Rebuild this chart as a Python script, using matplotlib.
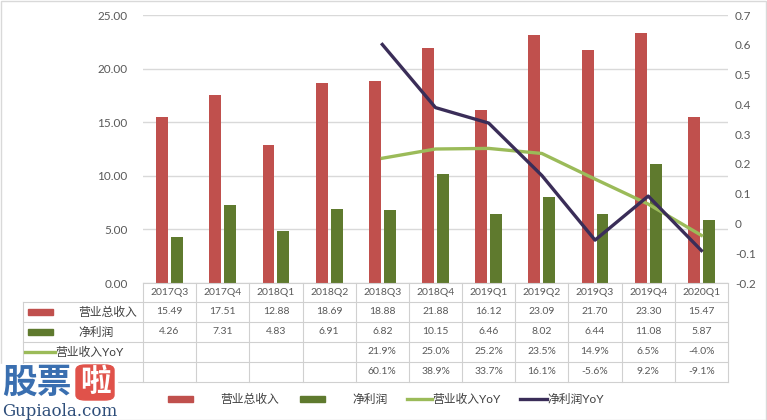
import matplotlib.pyplot as plt
import matplotlib.transforms as mtransforms
from matplotlib.patches import Rectangle, FancyBboxPatch
from matplotlib.lines import Line2D
import numpy as np

# 数据
quarters = ["2017Q3", "2017Q4", "2018Q1", "2018Q2", "2018Q3", "2018Q4",
            "2019Q1", "2019Q2", "2019Q3", "2019Q4", "2020Q1"]
revenue = [15.49, 17.51, 12.88, 18.69, 18.88, 21.88, 16.12, 23.09, 21.70, 23.30, 15.47]
profit = [4.26, 7.31, 4.83, 6.91, 6.82, 10.15, 6.46, 8.02, 6.44, 11.08, 5.87]
rev_yoy = [None, None, None, None, 21.9, 25.0, 25.2, 23.5, 14.9, 6.5, -4.0]
profit_yoy = [None, None, None, None, 60.1, 38.9, 33.7, 16.1, -5.6, 9.2, -9.1]

series_names = ["营业总收入", "净利润", "营业收入YoY", "净利润YoY"]
C_REV = "#C0504D"
C_PRO = "#5F7A2E"
C_RYOY = "#9BBB59"
C_PYOY = "#3A2D58"
GRID = "#D9D9D9"
TXT = "#595959"

plt.rcParams['font.family'] = ['Lato', 'Noto Sans CJK SC', 'DejaVu Sans']

W, H = 767, 420
fig = plt.figure(figsize=(W / 100, H / 100), dpi=100)

def fx(px):
    return px / W

def fy(py):
    return 1 - py / H

ax = fig.add_axes([fx(143), fy(283), fx(728) - fx(143), fy(15) - fy(283)])
ax2 = ax.twinx()

x = np.arange(len(quarters))
bw = 0.225
ax.bar(x - 0.14, revenue, bw, color=C_REV, zorder=3)
ax.bar(x + 0.14, profit, bw, color=C_PRO, zorder=3)
ax.set_xlim(-0.5, len(quarters) - 0.5)
ax.set_ylim(0, 25)
ax.set_yticks(np.arange(0, 26, 5))
ax.set_yticklabels([f"{v:.2f}" for v in np.arange(0, 26, 5)])
ax.yaxis.grid(True, color=GRID, linewidth=1, zorder=0)
ax.set_xticks([])
ax.tick_params(axis='y', length=0, pad=11, labelsize=8.5, labelcolor=TXT)
for s in ax.spines.values():
    s.set_visible(False)

# 同比折线（次坐标轴）
idx = [i for i, v in enumerate(rev_yoy) if v is not None]
ax2.plot(idx, [rev_yoy[i] / 100 for i in idx], color=C_RYOY, lw=2.4, zorder=4)
ax2.plot(idx, [profit_yoy[i] / 100 for i in idx], color=C_PYOY, lw=2.4, zorder=5)
ax2.set_ylim(-0.2, 0.7)
rt = np.round(np.arange(-0.2, 0.71, 0.1), 1)
ax2.set_yticks(rt)
ax2.set_yticklabels(["0" if v == 0 else f"{v:g}" for v in rt])
ax2.tick_params(axis='y', length=0, pad=5, labelsize=8.5, labelcolor=TXT)
for s in ax2.spines.values():
    s.set_visible(False)

# 数据表
tr = mtransforms.blended_transform_factory(ax.transData, fig.transFigure)
rows_y = [283, 302, 322, 342, 362, 382]
tc = "#D0D0D0"
fig.add_artist(Line2D([fx(143), fx(728)], [fy(283)] * 2, color=tc, lw=0.8))
for py in rows_y[1:]:
    fig.add_artist(Line2D([fx(23), fx(728)], [fy(py)] * 2, color=tc, lw=0.8))
fig.add_artist(Line2D([fx(23)] * 2, [fy(302), fy(382)], color=tc, lw=0.8))
for i in range(len(quarters) + 1):
    fig.add_artist(Line2D([i - 0.5] * 2, [fy(283), fy(382)], transform=tr, color=tc, lw=0.8))

def cell_y(r):
    return fy((rows_y[r] + rows_y[r + 1]) / 2)

fs_tab = 7.5
for i, q in enumerate(quarters):
    fig.text(i, cell_y(0), q, transform=tr, ha='center', va='center', fontsize=fs_tab, color=TXT)
    fig.text(i, cell_y(1), f"{revenue[i]:.2f}", transform=tr, ha='center', va='center', fontsize=fs_tab, color=TXT)
    fig.text(i, cell_y(2), f"{profit[i]:.2f}", transform=tr, ha='center', va='center', fontsize=fs_tab, color=TXT)
    if rev_yoy[i] is not None:
        fig.text(i, cell_y(3), f"{rev_yoy[i]:.1f}%", transform=tr, ha='center', va='center', fontsize=fs_tab, color=TXT)
    if profit_yoy[i] is not None:
        fig.text(i, cell_y(4), f"{profit_yoy[i]:.1f}%", transform=tr, ha='center', va='center', fontsize=fs_tab, color=TXT)

# 表格行标题
fig.add_artist(Rectangle((fx(28), cell_y(1) - 3 / H), fx(25), 6 / H, color=C_REV))
fig.text(fx(78), cell_y(1), series_names[0], ha='left', va='center', fontsize=8.5, color="#404040")
fig.add_artist(Rectangle((fx(28), cell_y(2) - 3 / H), fx(25), 6 / H, color=C_PRO))
fig.text(fx(78), cell_y(2), series_names[1], ha='left', va='center', fontsize=8.5, color="#404040")
fig.add_artist(Line2D([fx(25), fx(55)], [cell_y(3)] * 2, color=C_RYOY, lw=2.4))
fig.text(fx(55), cell_y(3), series_names[2], ha='left', va='center', fontsize=8.5, color="#404040")
fig.add_artist(Line2D([fx(25), fx(55)], [cell_y(4)] * 2, color=C_PYOY, lw=2.4))
fig.text(fx(55), cell_y(4), series_names[3], ha='left', va='center', fontsize=8.5, color="#404040")

# 图例
ly = fy(399)
fig.add_artist(Rectangle((fx(168), ly - 3 / H), fx(25), 6 / H, color=C_REV))
fig.text(fx(220), ly, series_names[0], ha='left', va='center', fontsize=8.5, color="#404040")
fig.add_artist(Rectangle((fx(300), ly - 3 / H), fx(25), 6 / H, color=C_PRO))
fig.text(fx(352), ly, series_names[1], ha='left', va='center', fontsize=8.5, color="#404040")
fig.add_artist(Line2D([fx(407), fx(432)], [ly] * 2, color=C_RYOY, lw=2.4))
fig.text(fx(432), ly, series_names[2], ha='left', va='center', fontsize=8.5, color="#404040")
fig.add_artist(Line2D([fx(520), fx(547)], [ly] * 2, color=C_PYOY, lw=2.4))
fig.text(fx(547), ly, series_names[3], ha='left', va='center', fontsize=8.5, color="#404040")

# 水印
fig.add_artist(Rectangle((0, fy(420)), fx(117), fy(364) - fy(420), color="white", zorder=9))
fig.text(fx(2), fy(382), "股票", ha='left', va='center', fontsize=25, fontweight='bold',
         color="#3A6FB0", zorder=10, family=['Noto Sans CJK SC'])
fig.add_artist(FancyBboxPatch((fx(76), fy(400)), fx(38), fy(365) - fy(400),
                              boxstyle="round,pad=0,rounding_size=0.012",
                              color="#E0524A", zorder=10))
fig.text(fx(95), fy(382), "啦", ha='center', va='center', fontsize=22, fontweight='bold',
         color="white", zorder=11, family=['Noto Sans CJK SC'])
fig.text(fx(2), fy(411), "Gupiaola.com", ha='left', va='center', fontsize=12,
         color="#2E4E7A", zorder=10, family=['DejaVu Serif'])

# 外框
fig.add_artist(Rectangle((0.5 / W, 0.5 / H), 1 - 1.5 / W, 1 - 1.5 / H, fill=False,
                         edgecolor="#D9D9D9", lw=1))

plt.savefig("out.png", dpi=100)
